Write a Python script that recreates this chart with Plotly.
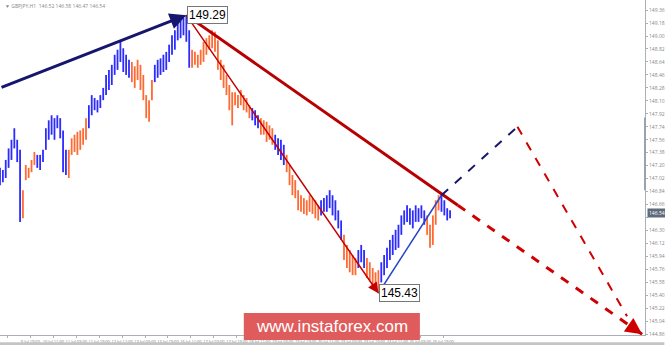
import plotly.graph_objects as go

# ---- price bars (2-hour steps, GBPJPY H1 chart) ----
bar_high = [147.17, 147.14, 147.28, 147.44, 147.56, 147.72, 147.56, 147.42, 146.86, 147.21,
            147.17, 147.28, 147.39, 147.35, 147.35, 147.42, 147.72, 147.83, 147.90, 147.86,
            147.90, 147.86, 147.69, 147.42, 147.42, 147.58, 147.63, 147.67, 147.69, 147.72,
            147.86, 148.04, 148.18, 148.14, 148.11, 148.18, 148.28, 148.46, 148.53, 148.60,
            148.74, 148.81, 148.92, 148.83, 148.74, 148.67, 148.64, 148.58, 148.67, 148.60,
            148.46, 148.18, 148.11, 148.39, 148.60, 148.67, 148.69, 148.74, 148.78, 148.88,
            149.01, 149.08, 149.19, 149.22, 149.25, 149.29, 149.08, 148.81, 148.78, 148.74,
            148.81, 148.92, 148.97, 149.01, 149.08, 149.06, 148.94, 148.67, 148.60, 148.46,
            148.32, 148.22, 148.22, 148.18, 148.25, 148.18, 148.14, 148.04, 148.00, 147.97,
            147.90, 147.86, 147.83, 147.81, 147.76, 147.72, 147.63, 147.58, 147.56, 147.49,
            147.35, 147.21, 147.07, 147.00, 146.86, 146.79, 146.75, 146.72, 146.79, 146.75,
            146.72, 146.65, 146.72, 146.75, 146.79, 146.86, 146.79, 146.72, 146.58, 146.44,
            146.24, 146.10, 146.03, 145.96, 145.92, 146.03, 146.10, 146.03, 145.92, 145.86,
            145.78, 145.72, 145.75, 145.86, 145.96, 146.06, 146.17, 146.24, 146.31, 146.38,
            146.51, 146.58, 146.65, 146.61, 146.58, 146.65, 146.61, 146.65, 146.58, 146.51,
            146.38, 146.51, 146.72, 146.79, 146.79, 146.72, 146.61, 146.58]
bar_low = [146.93, 146.97, 147.03, 147.17, 147.28, 147.44, 147.25, 146.42, 146.47, 147.00,
           147.03, 147.11, 147.21, 147.17, 147.14, 147.25, 147.42, 147.56, 147.63, 147.56,
           147.72, 147.58, 147.11, 147.07, 147.03, 147.35, 147.39, 147.35, 147.42, 147.49,
           147.56, 147.72, 147.90, 147.97, 147.94, 148.00, 148.11, 148.18, 148.25, 148.32,
           148.46, 148.53, 148.64, 148.50, 148.46, 148.42, 148.36, 148.28, 148.39, 148.25,
           148.11, 147.86, 147.81, 148.11, 148.36, 148.42, 148.46, 148.50, 148.53, 148.64,
           148.74, 148.81, 148.94, 148.97, 149.01, 148.92, 148.56, 148.56, 148.60, 148.56,
           148.60, 148.64, 148.74, 148.81, 148.83, 148.78, 148.53, 148.39, 148.28, 148.18,
           147.97, 147.76, 148.04, 148.00, 148.04, 147.97, 147.94, 147.86, 147.83, 147.76,
           147.72, 147.63, 147.63, 147.53, 147.56, 147.49, 147.42, 147.35, 147.28, 147.21,
           147.11, 146.93, 146.79, 146.75, 146.58, 146.56, 146.53, 146.51, 146.56, 146.53,
           146.47, 146.44, 146.51, 146.56, 146.56, 146.61, 146.51, 146.44, 146.33, 146.17,
           145.89, 145.78, 145.72, 145.68, 145.68, 145.78, 145.86, 145.78, 145.64, 145.61,
           145.54, 145.47, 145.43, 145.58, 145.68, 145.78, 145.89, 145.96, 146.03, 146.06,
           146.24, 146.38, 146.42, 146.38, 146.33, 146.42, 146.42, 146.47, 146.38, 146.24,
           146.06, 146.10, 146.38, 146.58, 146.56, 146.51, 146.44, 146.47]
# b = blue bar, o = orange bar
bar_dir = ("bbbbbbbb ooooo bbbbbbbbbbb ooooooo bbbbbbbbbbbbbbb oooooooo bbbbbbbbbbbbb "
           "ooooooooooooooooooooo bbb ooooo bbbb oooooooooooo bbbbbbbb ooooo bbb ooooo "
           "bbbbbbbbbbbbbbbb ooooo bbbb").replace(" ", "")

# ---- wave markup points (bar index, price) ----
wave_start = (0, 148.28)
wave_peak = (65, 149.29)
wave_low = (132, 145.43)
wave_b = (154, 146.79)
fc_top = (180.5, 147.74)
fc_end = (218.75, 145.11)
trend_end = (224, 144.86)
trend_solid_until = 159.7

# ---- axis labels ----
x_labels = ["9 Jul 2018", "9 Jul 19:00", "10 Jul 11:00", "11 Jul 03:00", "11 Jul 19:00",
            "12 Jul 11:00", "13 Jul 03:00", "13 Jul 19:00", "16 Jul 11:00", "17 Jul 03:00",
            "17 Jul 19:00", "18 Jul 11:00", "19 Jul 03:00", "19 Jul 19:00", "20 Jul 11:00",
            "23 Jul 03:00", "23 Jul 19:00", "24 Jul 11:00", "25 Jul 03:00", "25 Jul 19:00"]
first_label_bar = 2.6
bars_per_label = 8
y_ticks = [round(149.36 - 0.18 * k, 2) for k in range(26)]
last_price = 146.54
header = "▼ GBPJPY,H1  146.52 146.58 146.47 146.54"

BLUE = "#2b2bff"
ORANGE = "#ff6a33"
NAVY = "#16166e"
DRED = "#b80000"
RED = "#d00000"

fig = go.Figure()

for code, col in (("b", BLUE), ("o", ORANGE)):
    xs, ys = [], []
    for i, (h, l, d) in enumerate(zip(bar_high, bar_low, bar_dir)):
        if d == code:
            xs += [i, i, None]
            ys += [l, h, None]
    fig.add_trace(go.Scatter(x=xs, y=ys, mode="lines", line=dict(color=col, width=1.8),
                             hoverinfo="skip", showlegend=False))

def seg(p0, p1, color, width, dash="solid"):
    fig.add_trace(go.Scatter(x=[p0[0], p1[0]], y=[p0[1], p1[1]], mode="lines",
                             line=dict(color=color, width=width, dash=dash),
                             hoverinfo="skip", showlegend=False))

# thick red trend line: solid then dashed
slope = (trend_end[1] - wave_peak[1]) / (trend_end[0] - wave_peak[0])
mid = (trend_solid_until, wave_peak[1] + slope * (trend_solid_until - wave_peak[0]))
seg(wave_peak, mid, DRED, 3)
seg(mid, trend_end, RED, 3, "dash")
# wave (b) and forecast
seg(wave_low, wave_b, "#2846c8", 1.5)
seg(wave_b, fc_top, NAVY, 2, "dash")
seg(fc_top, fc_end, RED, 2, "dash")

ann = []
def arrow(p_from, p_to, color, width, size=1.0):
    ann.append(dict(x=p_to[0], y=p_to[1], ax=p_from[0], ay=p_from[1], xref="x", yref="y",
                    axref="x", ayref="y", text="", showarrow=True, arrowhead=2,
                    arrowsize=size, arrowwidth=width, arrowcolor=color, standoff=0))

arrow(wave_start, wave_peak, NAVY, 3, 1.1)
arrow(wave_peak, wave_low, "#c40000", 1.5, 1.4)
back = 5
arrow((trend_end[0] - back, trend_end[1] - slope * back), trend_end, RED, 3, 1.1)

for p, txt in ((wave_peak, "149.29"), (wave_low, "145.43")):
    ann.append(dict(x=p[0], y=p[1], xref="x", yref="y", text=txt, showarrow=False,
                    xanchor="left", yanchor="middle", xshift=1,
                    font=dict(family="Arial, Liberation Sans", size=12, color="black"),
                    bgcolor="white", bordercolor="#777", borderwidth=1, borderpad=1))

ann.append(dict(x=1, y=last_price, xref="paper", yref="y", text=f"{last_price:.2f}",
                showarrow=False, xanchor="left", yanchor="middle", xshift=2,
                font=dict(size=5, color="white"), bgcolor="#5d6b7a", borderpad=1))
ann.append(dict(x=0.004, y=1, xref="paper", yref="paper", text=header, showarrow=False,
                xanchor="left", yanchor="top", yshift=-1,
                font=dict(size=5, color="#888")))
ann.append(dict(x=0.5146, y=0.026, xref="paper", yref="paper", text="www.instaforex.com",
                showarrow=False, xanchor="center", yanchor="middle",
                font=dict(family="Arial, Liberation Sans", size=17, color="white")))

shapes = [
    dict(type="rect", xref="paper", yref="paper", x0=0.378, x1=0.651, y0=-0.0149, y1=0.0657,
         fillcolor="#e05c5c", line=dict(width=0), layer="above"),
    dict(type="line", xref="paper", yref="y", x0=1, x1=1, y0=147.87, y1=146.86,
         line=dict(color="#9aa3ad", width=2)),
    dict(type="rect", xref="paper", yref="paper", x0=0, x1=1.03, y0=-0.0305, y1=-0.022,
         fillcolor="#c4c4c4", line=dict(width=0), layer="above"),
]

# the highlighted last-price label covers the tick label beneath it
y_text = ["" if abs(v - last_price) < 0.09 else f"{v:.2f}" for v in y_ticks]

fig.update_layout(
    width=665, height=345,
    margin=dict(l=0, r=17, t=0, b=10),
    paper_bgcolor="white", plot_bgcolor="white",
    showlegend=False,
    annotations=ann, shapes=shapes,
    xaxis=dict(range=[0, 225], showgrid=False, zeroline=False, showline=True,
               linecolor="#a9b0b8", linewidth=1, ticks="outside", ticklen=2,
               tickcolor="#a9b0b8", tickangle=0,
               tickvals=[first_label_bar + bars_per_label * k for k in range(len(x_labels))],
               ticktext=x_labels, tickfont=dict(size=4, color="#777")),
    yaxis=dict(range=[144.85, 149.50], side="right", showgrid=False, zeroline=False,
               showline=True, linecolor="#a9b0b8", linewidth=1, ticks="outside",
               ticklen=2, tickcolor="#a9b0b8", tickvals=y_ticks,
               ticktext=y_text, tickfont=dict(size=5, color="#888")),
)

fig.write_html("out.html")
